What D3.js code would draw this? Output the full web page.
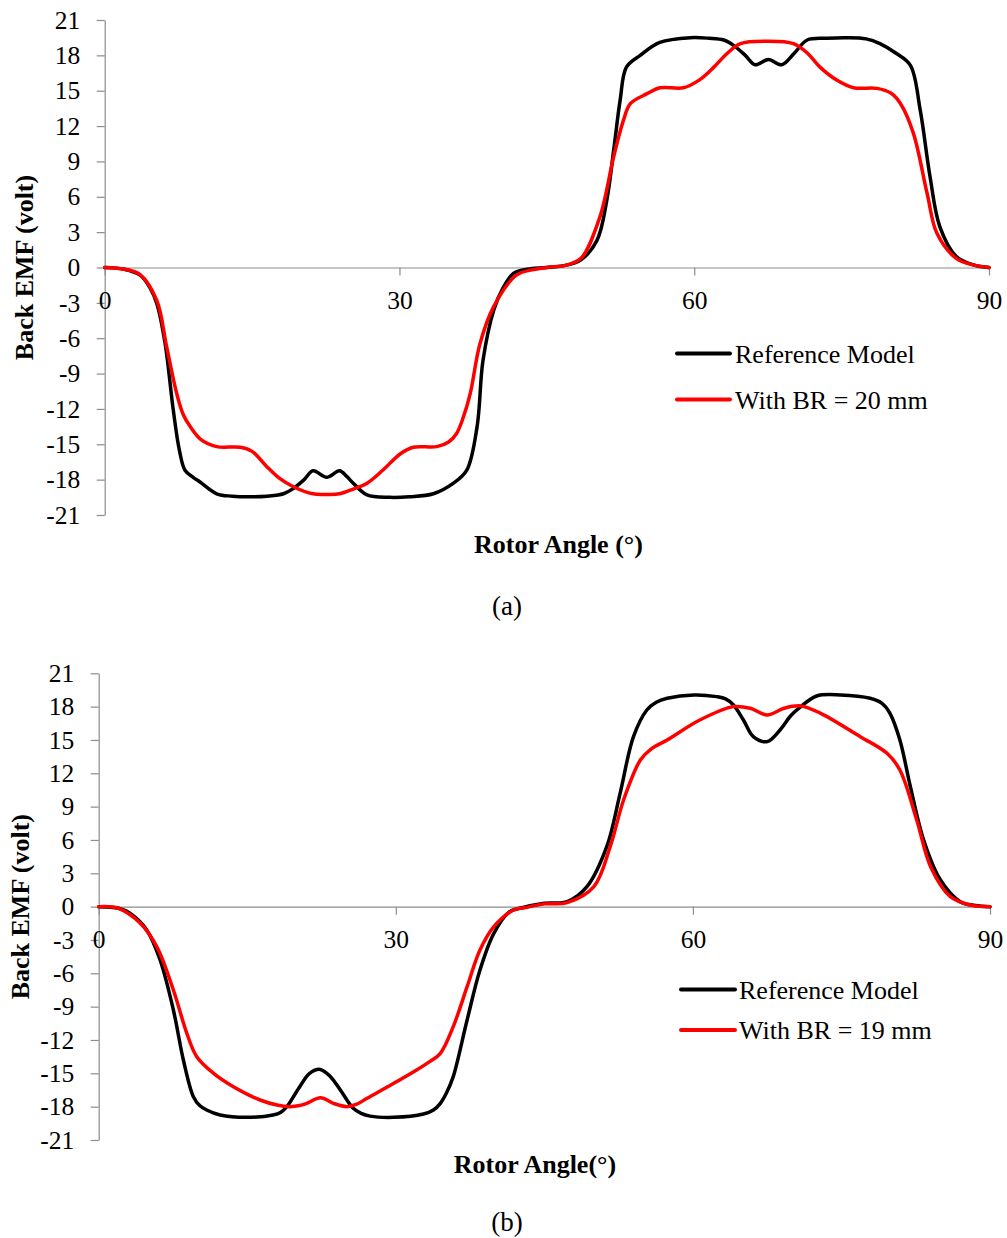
<!DOCTYPE html>
<html>
<head>
<meta charset="utf-8">
<script src="https://cdn.jsdelivr.net/npm/d3@7"></script>
<style>
  html, body { margin: 0; padding: 0; background: #fff; }
  svg { display: block; }
  text { font-family: "Liberation Serif", "Times New Roman", serif; fill: #000; }
</style>
</head>
<body>
<svg id="chart" width="1007" height="1238"></svg>
<script>
// ---------- DATA ----------
const yTicks = [-21, -18, -15, -12, -9, -6, -3, 0, 3, 6, 9, 12, 15, 18, 21];
const xTicks = [0, 30, 60, 90];
const seriesNames = ["Reference Model", "With BR = 20 mm", "With BR = 19 mm"];
const xTitles = ["Rotor Angle (°)", "Rotor Angle(°)"];
const yTitle = "Back EMF (volt)";
const panelLabels = ["(a)", "(b)"];

// Panel (a) – Reference Model
const aRefAngle = [0, 2, 3.6, 4.6, 5.3, 6.14, 6.98, 7.6, 8.17, 9.0, 9.7, 11.4, 13, 14.8, 16.5, 18.2, 19.2, 20.3, 21.2, 22.6, 23.9, 24.6, 25.3, 26.7, 29.0, 31, 33.45, 35.5, 36.85, 37.9, 38.5, 39.6, 40.5, 41.6, 43, 45, 47, 48.4, 50.1, 51.1, 51.8, 52.46, 53.1, 54.5, 56.5, 59.6, 61.5, 63.0, 64.0, 65.2, 66.2, 67.55, 68.9, 70.2, 71.5, 73.5, 75.5, 77.5, 78.9, 80.5, 82.0, 83.0, 84.0, 85.0, 86.7, 88.5, 90];
const aRefEmf = [0, -0.15, -0.65, -1.7, -3.05, -6.4, -12.1, -15.5, -17.2, -17.8, -18.2, -19.2, -19.4, -19.45, -19.4, -19.2, -18.75, -18.0, -17.25, -17.8, -17.25, -17.7, -18.3, -19.3, -19.5, -19.45, -19.2, -18.3, -17.2, -13.5, -7.9, -3.6, -1.8, -0.5, -0.15, 0, 0.2, 0.6, 2.3, 5.7, 9.95, 14.2, 17.0, 18.0, 19.1, 19.5, 19.45, 19.3, 18.85, 18.0, 17.2, 17.65, 17.2, 18.2, 19.3, 19.45, 19.5, 19.4, 19.0, 18.2, 17.15, 13.35, 7.7, 3.45, 0.9, 0.2, 0];

// Panel (a) – With BR = 20 mm
const aBrAngle = [0, 2, 3.6, 5.3, 6.3, 7.33, 8.0, 8.7, 9.8, 11.4, 13.8, 15, 16.5, 17.8, 19.2, 21.2, 22.55, 23.9, 25.3, 26.7, 28.3, 30.1, 31.4, 33.8, 35.0, 35.8, 36.5, 37.2, 38.2, 39.6, 41.9, 43.5, 45, 47, 48.5, 50.4, 51.8, 52.8, 53.5, 55.2, 56.5, 58.9, 60.5, 62.0, 63.4, 64.7, 67.4, 70.1, 71.5, 72.8, 74.5, 76.2, 78.6, 80, 81.0, 82.3, 83.7, 84.7, 86.7, 88.5, 90];
const aBrEmf = [0, -0.15, -0.6, -2.8, -6.7, -10.7, -12.5, -13.5, -14.6, -15.2, -15.25, -15.6, -16.9, -17.9, -18.6, -19.2, -19.25, -19.2, -18.8, -18.3, -17.2, -15.8, -15.25, -15.2, -14.8, -14.1, -12.7, -10.7, -6.45, -3.3, -0.65, -0.2, 0, 0.2, 0.8, 4.3, 9.4, 12.5, 13.9, 14.75, 15.25, 15.25, 15.9, 17.0, 18.2, 19.0, 19.2, 19.0, 18.2, 17.0, 15.9, 15.25, 15.2, 14.8, 13.9, 11.4, 6.3, 2.9, 0.75, 0.2, 0];

// Panel (b) – Reference Model
const bRefAngle = [0, 2, 3.16, 4.85, 6.2, 7.54, 8.55, 9.56, 10.2, 10.9, 12.26, 14.95, 17.6, 18.4, 19.0, 20.3, 21.3, 22.36, 23.4, 24.4, 25.7, 26.5, 27.4, 29.8, 32.8, 33.8, 34.5, 35.1, 35.8, 37.2, 38.5, 39.9, 41.5, 42.55, 45, 47.3, 49.3, 51.3, 52.65, 54.0, 55.35, 56.3, 57.4, 60.1, 62.4, 63.3, 64.1, 65.1, 66.1, 67.5, 68.8, 69.9, 70.9, 72.5, 74.9, 77.9, 79.1, 79.9, 80.9, 81.96, 83.3, 85.0, 87.0, 88.5, 90];
const bRefEmf = [0, -0.15, -0.6, -2.1, -4.8, -9.3, -13.8, -17.1, -17.9, -18.3, -18.75, -18.96, -18.75, -18.5, -18.0, -16.2, -15.0, -14.65, -15.3, -16.5, -18.15, -18.6, -18.85, -18.96, -18.66, -18.3, -17.7, -16.8, -15.3, -10.2, -5.7, -2.4, -0.45, -0.15, 0.3, 0.45, 1.8, 5.4, 10.2, 15.3, 17.7, 18.4, 18.75, 19.05, 18.9, 18.7, 18.15, 16.8, 15.3, 14.85, 15.9, 17.2, 18.0, 18.96, 19.05, 18.75, 18.3, 17.4, 15.0, 10.8, 6.0, 2.4, 0.45, 0.1, 0];

// Panel (b) – With BR = 19 mm
const bBrAngle = [0, 2, 4.2, 5.86, 7.54, 8.9, 9.9, 11.6, 13.6, 16.3, 18.0, 19.3, 20.3, 21.0, 22.4, 23.7, 25.05, 26.0, 27.1, 29.8, 32.1, 33.5, 34.5, 35.8, 37.2, 38.5, 39.9, 41.9, 43, 45, 47.3, 50.0, 51.65, 53.0, 54.7, 55.8, 57.4, 60.7, 64.1, 65.8, 67.5, 69.2, 70.9, 72.9, 76.9, 79.6, 80.9, 82.6, 84.0, 86.0, 88, 90];
const bBrEmf = [0, -0.15, -1.5, -3.6, -7.5, -11.4, -13.5, -15.0, -16.2, -17.4, -17.85, -18.0, -17.9, -17.7, -17.2, -17.7, -18.0, -17.8, -17.25, -15.9, -14.7, -13.9, -13.2, -10.8, -7.2, -3.9, -1.8, -0.3, -0.1, 0.25, 0.36, 1.8, 5.4, 9.6, 13.2, 14.2, 15.0, 16.8, 18.0, 17.85, 17.25, 17.85, 18.06, 17.4, 15.3, 13.8, 12.3, 7.8, 3.6, 0.9, 0.15, 0];

// ---------- DRAW ----------
const svg = d3.select("#chart");
const axisColor = "#8c8c8c";
const fontFam = '"Liberation Serif", "Times New Roman", serif';

const panels = [
  { x0: 104.7, x1: 989, yTop: 20, yBot: 515,
    series: [{ a: aRefAngle, v: aRefEmf, c: "#000000" }, { a: aBrAngle, v: aBrEmf, c: "#ff0000" }],
    names: [seriesNames[0], seriesNames[1]],
    legend: { x: 677, lineEnd: 730, y: 353.5, dy: 46, tx: 735 },
    xTitle: xTitles[0], xTitleX: 558.5, xTitleY: 553,
    yTitleX: 33, label: panelLabels[0], labelY: 615 },
  { x0: 98.7, x1: 990, yTop: 673.3, yBot: 1140,
    series: [{ a: bRefAngle, v: bRefEmf, c: "#000000" }, { a: bBrAngle, v: bBrEmf, c: "#ff0000" }],
    names: [seriesNames[0], seriesNames[2]],
    legend: { x: 681, lineEnd: 735, y: 989.5, dy: 40.5, tx: 739 },
    xTitle: xTitles[1], xTitleX: 535, xTitleY: 1173,
    yTitleX: 29, label: panelLabels[1], labelY: 1231 }
];

panels.forEach(p => {
  const x = d3.scaleLinear().domain([0, 90]).range([p.x0, p.x1]);
  const y = d3.scaleLinear().domain([-21, 21]).range([p.yBot, p.yTop]);
  const g = svg.append("g");

  // Y axis
  const yAx = g.append("g")
    .attr("transform", `translate(${p.x0},0)`)
    .call(d3.axisLeft(y).tickValues(yTicks).tickSize(8).tickSizeOuter(0).tickPadding(16.5).tickFormat(d => String(d)));
  yAx.select(".domain").attr("stroke", axisColor).attr("stroke-width", 1.2);
  yAx.selectAll(".tick line").attr("stroke", axisColor).attr("stroke-width", 1.2);
  yAx.selectAll(".tick text")
    .style("font-family", fontFam)
    .style("font-size", "25.5px").attr("fill", "#000");

  // X axis at zero
  const xAx = g.append("g")
    .attr("transform", `translate(0,${y(0)})`)
    .call(d3.axisBottom(x).tickValues(xTicks).tickSize(8).tickSizeOuter(0).tickFormat(d => String(d)));
  xAx.select(".domain").attr("stroke", axisColor).attr("stroke-width", 1.2);
  xAx.selectAll(".tick line").attr("stroke", axisColor).attr("stroke-width", 1.2);
  xAx.selectAll(".tick text")
    .attr("y", 41).attr("dy", null)
    .style("font-family", fontFam)
    .style("font-size", "25.5px").attr("fill", "#000");

  // Lines
  const line = d3.line().x(d => x(d[0])).y(d => y(d[1])).curve(d3.curveCatmullRom.alpha(0.5));
  p.series.forEach(s => {
    const pts = s.a.map((a, i) => [a, s.v[i]]);
    g.append("path").datum(pts)
      .attr("d", line)
      .attr("fill", "none")
      .attr("stroke", s.c)
      .attr("stroke-width", 3.5)
      .attr("stroke-linejoin", "round")
      .attr("stroke-linecap", "round");
  });

  // Legend
  p.series.forEach((s, i) => {
    const ly = p.legend.y + i * p.legend.dy;
    g.append("line")
      .attr("x1", p.legend.x).attr("x2", p.legend.lineEnd)
      .attr("y1", ly).attr("y2", ly)
      .attr("stroke", s.c).attr("stroke-width", 4).attr("stroke-linecap", "round");
    g.append("text")
      .attr("x", p.legend.tx).attr("y", ly + 9)
      .style("font-size", "26px")
      .text(p.names[i]);
  });

  // Axis titles
  g.append("text")
    .attr("x", p.xTitleX).attr("y", p.xTitleY)
    .attr("text-anchor", "middle")
    .style("font-size", "26px").style("font-weight", "bold")
    .text(p.xTitle);
  const yMid = (p.yTop + p.yBot) / 2;
  g.append("text")
    .attr("transform", `translate(${p.yTitleX},${yMid}) rotate(-90)`)
    .attr("text-anchor", "middle")
    .style("font-size", "26px").style("font-weight", "bold")
    .text(yTitle);

  // Panel label
  g.append("text")
    .attr("x", 507).attr("y", p.labelY)
    .attr("text-anchor", "middle")
    .style("font-size", "27px")
    .text(p.label);
});
</script>
</body>
</html>
